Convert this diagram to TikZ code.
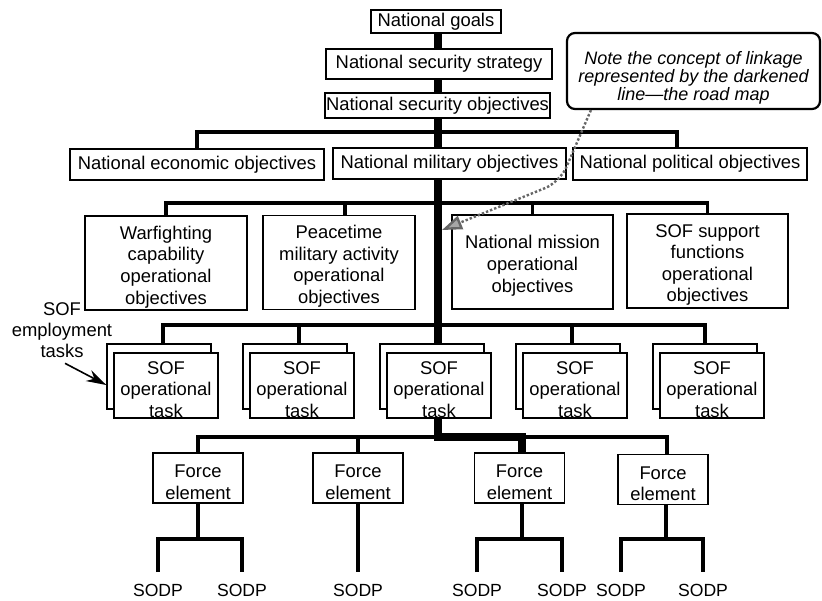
\documentclass[tikz,border=0pt]{standalone}
\usepackage{fontspec}
\setmainfont{Liberation Sans}
\usetikzlibrary{arrows.meta}
\newcommand\lowstrut{\rule{0pt}{10.5pt}}
\begin{document}
\begin{tikzpicture}[x=0.5pt, y=-0.5pt,
  box/.style={draw, line width=0.7pt, fill=white, inner sep=0pt, align=center,
              font=\fontsize{9.2}{10.8}\selectfont},
  onebox/.style={box, minimum height=#1},
  objbox/.style={box, minimum height=47pt},
  taskbox/.style={box, minimum width=52pt, minimum height=32.5pt},
  febox/.style={box, minimum width=45pt, minimum height=25pt},
  leaf/.style={inner sep=0pt, font=\fontsize{8.8}{10}\selectfont},
  conn/.style={line width=1.9pt},
  road/.style={line width=3.75pt},
  bot/.style={line width=2.2pt},
  hatch/.style={black!60, line width=1.2pt, densely dotted, rounded corners=8pt},
]
\useasboundingbox (0,0) rectangle (822,600);

% helper coordinates (spine and bar levels)
\coordinate (sp) at (438,0);
\coordinate (b1) at (0,132);
\coordinate (b2) at (0,203);
\coordinate (b3) at (0,325);
\coordinate (b4) at (0,437);
\coordinate (b5) at (0,539);
\coordinate (b6) at (0,572);
\coordinate (tip) at (442,230);

% top chain
\node[onebox=11.5pt, minimum width=65pt] (ng) at (436,21.5) {National goals};
\node[onebox=15pt, minimum width=113pt] (nss) at (439,64) {National security strategy};
\node[onebox=12.5pt, minimum width=112.5pt] (nso) at (437.5,105.5) {National security objectives};

% row 2
\node[onebox=15.5pt, minimum width=127pt] (neo) at (197,164.5) {National economic objectives};
\node[onebox=15.5pt, minimum width=116.5pt] (nmo) at (449.5,163.5) {National military objectives};
\node[onebox=16pt, minimum width=117pt] (npo) at (690,164) {National political objectives};

% row 3
\node[objbox, minimum width=81pt] (wf) at (166,263) {\lowstrut Warfighting\\capability\\operational\\objectives};
\node[objbox, minimum width=76pt] (pt) at (339,262.5) {\lowstrut Peacetime\\military activity\\operational\\objectives};
\node[objbox, minimum width=80.5pt] (nm) at (532.5,262) {\lowstrut National mission\\operational\\objectives};
\node[objbox, minimum width=80.5pt] (ss) at (707.5,261) {\lowstrut SOF support\\functions\\operational\\objectives};

% row 4 (stacked task boxes)
\foreach \i/\cx in {1/166, 2/302, 3/439, 4/575, 5/712} {
  \node[taskbox] (t\i b) at (\cx-7,376.5) {};
  \node[taskbox] (t\i) at (\cx,385.5) {\lowstrut SOF\\operational\\task};
}

% row 5
\node[febox] (fe1) at (198,478) {\lowstrut Force\\element};
\node[febox] (fe2) at (358,478) {\lowstrut Force\\element};
\node[febox] (fe3) at (519.5,478) {\lowstrut Force\\element};
\node[febox] (fe4) at (663,479.5) {\lowstrut Force\\element};

% leaves
\node[leaf] (s1) at (158,590) {SODP};
\node[leaf] (s2) at (242,590) {SODP};
\node[leaf] (s3) at (358,590) {SODP};
\node[leaf] (s4) at (477,590) {SODP};
\node[leaf] (s5) at (562,590) {SODP};
\node[leaf] (s6) at (621,590) {SODP};
\node[leaf] (s7) at (703,590) {SODP};

% side label
\node[inner sep=0pt, align=center, font=\fontsize{9.2}{10.5}\selectfont] (emp) at (62,330)
  {SOF\\employment\\tasks};

% callout
\node[draw, line width=1.1pt, rounded corners=4pt, minimum width=126.5pt,
      minimum height=38pt, inner sep=0pt, fill=white] (note) at (693.5,71) {};
\node[inner sep=0pt, align=center, font=\fontsize{9}{9}\selectfont\itshape] (notetxt)
  at (693.5,77.5) {Note the concept of linkage\\represented by the darkened\\line—the road map};

% ordinary connectors
\draw[conn] (neo.north) -- (neo.north |- b1) -- ([xshift=-6.5pt]npo.north |- b1) -- ([xshift=-6.5pt]npo.north);
\draw[conn] (wf.north) -- (wf.north |- b2) -- (ss.north |- b2) -- (ss.north);
\draw[conn] ([xshift=3pt]pt.north) -- ([xshift=3pt]pt.north |- b2);
\draw[conn] (nm.north) -- (nm.north |- b2);
\draw[conn] ([xshift=2pt]t1b.north) -- ([xshift=2pt]t1b.north |- b3) -- (t5b.north |- b3) -- (t5b.north);
\draw[conn] ([xshift=2pt]t2b.north) -- ([xshift=2pt]t2b.north |- b3);
\draw[conn] ([xshift=2pt]t4b.north) -- ([xshift=2pt]t4b.north |- b3);
\draw[conn] (fe1.north) -- (fe1.north |- b4) -- ([xshift=2pt]fe4.north |- b4) -- ([xshift=2pt]fe4.north);
\draw[conn] (fe2.north) -- (fe2.north |- b4);

% road map (darkened line)
\draw[road] (ng.south -| sp) -- (nss.north -| sp);
\draw[road] (nss.south -| sp) -- (nso.north -| sp);
\draw[road] (nso.south -| sp) -- (nmo.north -| sp);
\draw[road] (nmo.south -| sp) -- (t3b.north -| sp);
\draw[road] (t3.south -| sp) -- (sp |- b4) -- ([xshift=1.25pt]fe3.north |- b4) -- ([xshift=1.25pt]fe3.north);

% bottom connectors
\draw[bot] (fe1.south) -- (fe1.south |- b5);
\draw[bot] (s1.north |- b6) -- (s1.north |- b5) -- (s2.north |- b5) -- (s2.north |- b6);
\draw[bot] (fe2.south) -- (s3.north |- b6);
\draw[bot] ([xshift=1.25pt]fe3.south) -- ([xshift=1.25pt]fe3.south |- b5);
\draw[bot] (s4.north |- b6) -- (s4.north |- b5) -- (s5.north |- b5) -- (s5.north |- b6);
\draw[bot] ([xshift=1.5pt]fe4.south) -- ([xshift=1.5pt]fe4.south |- b5);
\draw[bot] (s6.north |- b6) -- (s6.north |- b5) -- (s7.north |- b5) -- (s7.north |- b6);

% arrows
\draw[hatch, -{Triangle[length=10pt,width=7pt,fill=black!35]}]
  ([xshift=12.5pt]note.south west) -- (560,182) -- (tip);
\draw[line width=0.8pt, -{Stealth[length=10pt,width=6pt]}]
  ([xshift=1.5pt,yshift=-2.7pt]emp.south) -- ([yshift=-4.25pt]t1b.west);
\end{tikzpicture}
\end{document}
